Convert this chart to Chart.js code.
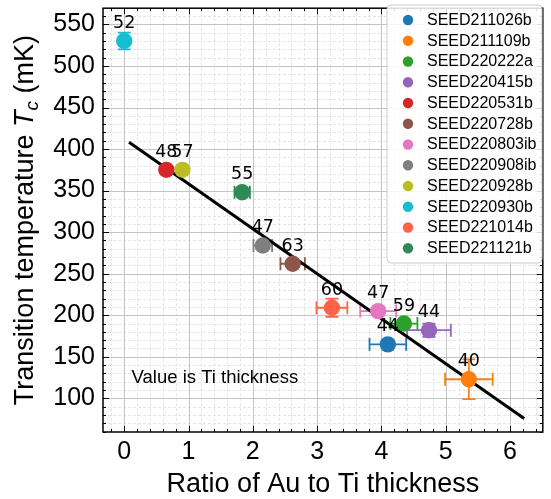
<!DOCTYPE html>
<html><head><meta charset="utf-8">
<script src="https://cdn.jsdelivr.net/npm/chart.js@4"></script>
<style>html,body{margin:0;padding:0;background:#fff;}#wrap{width:551px;height:499px;position:relative;}</style>
</head><body><div id="wrap"><canvas id="c" width="551" height="499"></canvas></div>
<script>
// ---- data ----
const sampleNames = ['SEED211026b','SEED211109b','SEED220222a','SEED220415b','SEED220531b','SEED220728b','SEED220803ib','SEED220908ib','SEED220928b','SEED220930b','SEED221014b','SEED221121b'];
const sampleColors = ['#1f77b4','#ff7f0e','#2ca02c','#9467bd','#d62728','#8c564b','#e377c2','#7f7f7f','#bcbd22','#17becf','#ff6347','#2e8b57'];
const ratioAuTi = [4.10, 5.36, 4.35, 4.74, 0.655, 2.62, 3.95, 2.155, 0.905, 0.0, 3.23, 1.835];
const ratioErr  = [0.285, 0.37, 0.21, 0.34, 0, 0.19, 0.28, 0.145, 0, 0, 0.24, 0.12];
const tcValues  = [165, 123, 190, 182, 375, 262, 205, 284, 375, 530, 209, 348];
const tcErr     = [0, 24, 0, 8, 0, 0, 0, 0, 0, 10, 11, 0];
const tiThickness = [44, 40, 59, 44, 48, 63, 47, 47, 57, 52, 60, 55];
const fitX = [0.075, 6.22];
const fitY = [408.3, 75.8];
const xTickValues = [0, 1, 2, 3, 4, 5, 6];
const yTickValues = [100, 150, 200, 250, 300, 350, 400, 450, 500, 550];
const xTitle = 'Ratio of Au to Ti thickness';
const noteText = 'Value is Ti thickness';

const FONT = '"Liberation Sans", Arial, Helvetica, sans-serif';
const NUMFONT = '"DejaVu Sans", sans-serif';

const datasets = sampleNames.map((name, i) => ({
  type: 'scatter', label: name,
  data: [{x: ratioAuTi[i], y: tcValues[i]}],
  backgroundColor: sampleColors[i], borderColor: sampleColors[i],
  pointRadius: 8.2, pointHoverRadius: 8.2, borderWidth: 0,
  order: sampleNames.length - i
}));
datasets.push({
  type: 'line', label: 'fit',
  data: fitX.map((v, i) => ({x: v, y: fitY[i]})),
  borderColor: '#000', borderWidth: 3, pointRadius: 0, fill: false, order: 100
});

const sciPlugin = {
  id: 'sci',
  beforeDatasetsDraw(chart) {
    const {ctx, chartArea: a, scales: {x, y}} = chart;
    ctx.save();
    ctx.beginPath(); ctx.rect(a.left, a.top, a.right - a.left, a.bottom - a.top); ctx.clip();
    // minor grid
    ctx.strokeStyle = '#dedede'; ctx.lineWidth = 0.8; ctx.setLineDash([3, 2]);
    ctx.beginPath();
    for (let k = Math.ceil(x.min * 5); k <= Math.floor(x.max * 5); k++) {
      if (k % 5 === 0) continue;
      const px = Math.round(x.getPixelForValue(k / 5)) + 0.5;
      ctx.moveTo(px, a.top); ctx.lineTo(px, a.bottom);
    }
    for (let k = Math.ceil(y.min / 10); k <= Math.floor(y.max / 10); k++) {
      if (k % 5 === 0) continue;
      const py = Math.round(y.getPixelForValue(k * 10)) + 0.5;
      ctx.moveTo(a.left, py); ctx.lineTo(a.right, py);
    }
    ctx.stroke();
    // major grid
    ctx.setLineDash([]); ctx.strokeStyle = '#c4c4c4'; ctx.lineWidth = 1;
    ctx.beginPath();
    x.ticks.forEach(t => { const px = Math.round(x.getPixelForValue(t.value)) + 0.5; ctx.moveTo(px, a.top); ctx.lineTo(px, a.bottom); });
    y.ticks.forEach(t => { const py = Math.round(y.getPixelForValue(t.value)) + 0.5; ctx.moveTo(a.left, py); ctx.lineTo(a.right, py); });
    ctx.stroke();
    // error bars
    const cap = 6.5;
    ctx.lineWidth = 1.8;
    sampleNames.forEach((n, i) => {
      ctx.strokeStyle = sampleColors[i];
      const cx = x.getPixelForValue(ratioAuTi[i]), cy = y.getPixelForValue(tcValues[i]);
      ctx.beginPath();
      if (ratioErr[i] > 0) {
        const x0 = x.getPixelForValue(ratioAuTi[i] - ratioErr[i]), x1 = x.getPixelForValue(ratioAuTi[i] + ratioErr[i]);
        ctx.moveTo(x0, cy); ctx.lineTo(x1, cy);
        ctx.moveTo(x0, cy - cap); ctx.lineTo(x0, cy + cap);
        ctx.moveTo(x1, cy - cap); ctx.lineTo(x1, cy + cap);
      }
      if (tcErr[i] > 0) {
        const y0 = y.getPixelForValue(tcValues[i] - tcErr[i]), y1 = y.getPixelForValue(tcValues[i] + tcErr[i]);
        ctx.moveTo(cx, y0); ctx.lineTo(cx, y1);
        ctx.moveTo(cx - cap, y0); ctx.lineTo(cx + cap, y0);
        ctx.moveTo(cx - cap, y1); ctx.lineTo(cx + cap, y1);
      }
      ctx.stroke();
    });
    ctx.restore();
  },
  afterDatasetsDraw(chart) {
    const {ctx, chartArea: a, scales: {x, y}} = chart;
    ctx.save();
    // point labels
    ctx.fillStyle = '#000'; ctx.font = `17.5px ${NUMFONT}`; ctx.textAlign = 'center'; ctx.textBaseline = 'alphabetic';
    sampleNames.forEach((n, i) => {
      ctx.fillText(String(tiThickness[i]), x.getPixelForValue(ratioAuTi[i]), y.getPixelForValue(tcValues[i]) - 13);
    });
    // note
    ctx.textAlign = 'left'; ctx.font = `18.5px ${FONT}`;
    ctx.fillText(noteText, a.left + 0.065 * (a.right - a.left), a.top + 0.885 * (a.bottom - a.top));
    // frame and inward ticks
    ctx.strokeStyle = '#000'; ctx.lineWidth = 1.5;
    ctx.strokeRect(a.left, a.top, a.right - a.left, a.bottom - a.top);
    ctx.lineWidth = 1; ctx.beginPath();
    for (let k = Math.ceil(x.min * 5); k <= Math.floor(x.max * 5); k++) {
      const L = k % 5 === 0 ? 6 : 3;
      const px = Math.round(x.getPixelForValue(k / 5)) + 0.5;
      ctx.moveTo(px, a.bottom); ctx.lineTo(px, a.bottom - L);
      ctx.moveTo(px, a.top); ctx.lineTo(px, a.top + L);
    }
    for (let k = Math.ceil(y.min / 10); k <= Math.floor(y.max / 10); k++) {
      const L = k % 5 === 0 ? 6 : 3;
      const py = Math.round(y.getPixelForValue(k * 10)) + 0.5;
      ctx.moveTo(a.left, py); ctx.lineTo(a.left + L, py);
      ctx.moveTo(a.right, py); ctx.lineTo(a.right - L, py);
    }
    ctx.stroke();
    // legend
    const lx = 387, ly = 5, lw = 155, lh = 258;
    ctx.beginPath(); ctx.roundRect(lx, ly, lw, lh, 4);
    ctx.fillStyle = 'rgba(255,255,255,0.85)'; ctx.fill();
    ctx.strokeStyle = '#cccccc'; ctx.lineWidth = 1; ctx.stroke();
    ctx.font = `16px ${FONT}`; ctx.textBaseline = 'middle'; ctx.textAlign = 'left';
    sampleNames.forEach((n, i) => {
      const cy = 20 + i * 20.75;
      ctx.fillStyle = sampleColors[i];
      ctx.beginPath(); ctx.arc(408, cy, 5.2, 0, Math.PI * 2); ctx.fill();
      ctx.fillStyle = '#000';
      ctx.fillText(n, 427, cy + 0.5);
    });
    // x title
    ctx.textBaseline = 'alphabetic'; ctx.textAlign = 'center'; ctx.font = `27px ${FONT}`;
    ctx.fillText(xTitle, (a.left + a.right) / 2, 491.5);
    // y title
    ctx.translate(33, (a.top + a.bottom) / 2); ctx.rotate(-Math.PI / 2);
    const parts = [
      {t: 'Transition temperature ', f: `27px ${FONT}`, dy: 0},
      {t: 'T', f: `italic 27px ${FONT}`, dy: 0},
      {t: 'c', f: `italic 19px ${FONT}`, dy: 5},
      {t: ' (mK)', f: `27px ${FONT}`, dy: 0}
    ];
    let total = 0;
    parts.forEach(p => { ctx.font = p.f; p.w = ctx.measureText(p.t).width; total += p.w; });
    let cx = -total / 2;
    ctx.textAlign = 'left';
    parts.forEach(p => { ctx.font = p.f; ctx.fillText(p.t, cx, p.dy); cx += p.w; });
    ctx.restore();
  }
};

const zeroPad = s => { s.paddingTop = 0; s.paddingBottom = 0; s.paddingLeft = 0; s.paddingRight = 0; };

new Chart(document.getElementById('c'), {
  type: 'scatter',
  data: {datasets},
  options: {
    responsive: false, animation: false, devicePixelRatio: 1,
    layout: {padding: {left: 0, right: 7, top: 3, bottom: 0}},
    plugins: {legend: {display: false}, tooltip: {enabled: false}},
    scales: {
      x: {
        type: 'linear', min: -0.33, max: 6.51,
        afterBuildTicks: s => { s.ticks = xTickValues.map(v => ({value: v})); },
        afterFit: s => { s.height = 67; zeroPad(s); },
        grid: {display: false, drawTicks: false}, border: {display: false},
        ticks: {font: {family: FONT, size: 25}, color: '#000', padding: 5, maxRotation: 0, autoSkip: false}
      },
      y: {
        type: 'linear', min: 59.5, max: 569.5,
        afterBuildTicks: s => { s.ticks = yTickValues.map(v => ({value: v})); },
        afterFit: s => { s.width = 103; zeroPad(s); },
        grid: {display: false, drawTicks: false}, border: {display: false},
        ticks: {font: {family: FONT, size: 25}, color: '#000', padding: 8, autoSkip: false}
      }
    }
  },
  plugins: [sciPlugin]
});
</script></body></html>
